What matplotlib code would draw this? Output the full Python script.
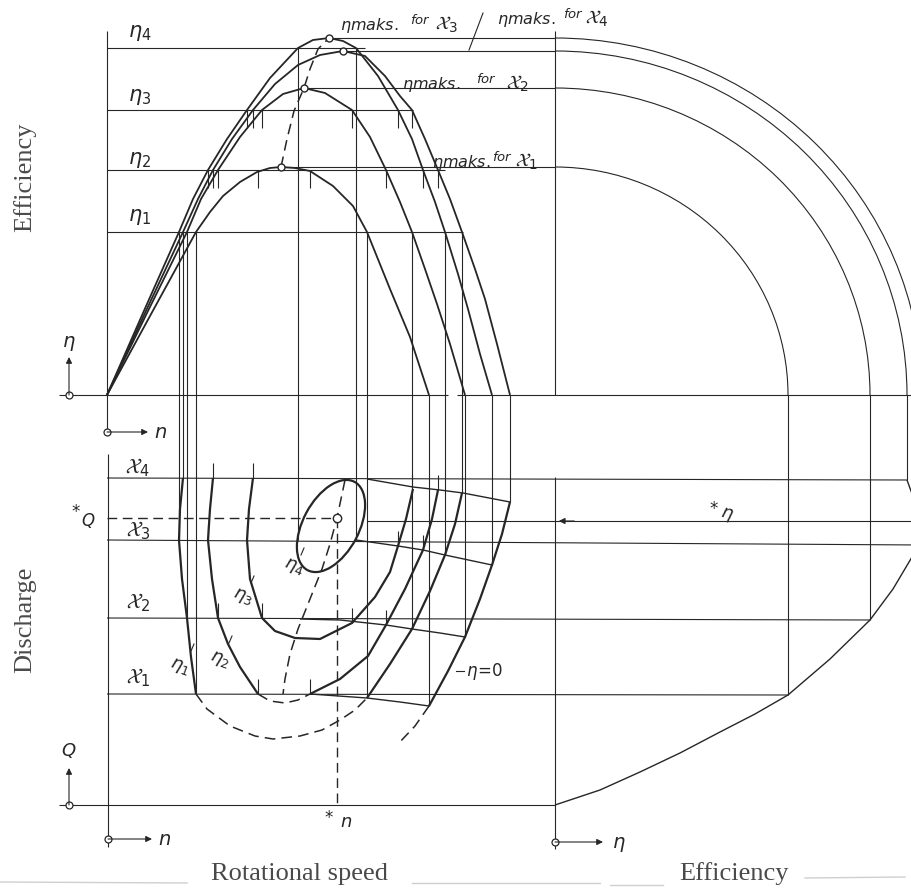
""" plot.py
Turbine hill diagram construction: eta(n), Q(n) contours and eta(Q). """

import numpy as np
import matplotlib.pyplot as plt
from matplotlib.patches import Arc, Ellipse

# ---- data, in diagram units (n and eta / Q counted from each panel origin) ----
eta_levels = [163, 225, 285, 347]            # eta_1 .. eta_4
q_left = [111, 187, 265, 327]                # openings x_1 .. x_4 on the Q axis
q_right = [110, 185, 260, 325]               # same openings on the eta axis side

# eta(n) for the four openings (upper diagram)
n_x1 = [0, 43, 89, 103, 116, 133, 150, 163, 174, 188, 203, 226, 246, 260, 283, 303, 322]
eta_x1 = [0, 79, 163, 183, 199, 213, 223, 227, 228, 227, 224, 209, 189, 163, 106, 58, 0]
n_x2 = [0, 40, 80, 94, 111, 133, 155, 176, 197, 218, 245, 263, 279, 293, 305, 318, 330, 343, 358]
eta_x2 = [0, 82, 163, 196, 225, 258, 285, 301, 307, 302, 285, 258, 225, 193, 163, 126, 91, 51, 0]
n_x3 = [0, 36, 72, 86, 101, 120, 140, 163, 191, 206, 222, 236, 249, 271, 291, 305, 316,
        328, 338, 351, 361, 373, 385]
eta_x3 = [0, 82, 163, 196, 225, 256, 285, 317, 347, 355, 357, 354, 347, 319, 285, 256, 225,
          193, 163, 121, 86, 41, 0]
n_x4 = [0, 38, 76, 91, 106, 125, 146, 168, 191, 213, 236, 258, 278, 293, 305, 318, 331,
        343, 355, 368, 378, 390, 403]
eta_x4 = [0, 82, 163, 196, 225, 256, 285, 311, 330, 340, 344, 339, 319, 299, 285, 256, 225,
          196, 163, 126, 96, 51, 0]

peak_n = [174, 197, 222, 236]
peak_eta = [228, 307, 357, 344]
peak_eta_right = [233, 315, 367, 352]        # same maxima on the lower-right eta axis
eta_line_len = [356, 338, 306, 258]

# crossings with eta_2 / eta_3 (short ticks), n and Q of the matching contour point
tick2_n = [101, 106, 111, 151, 203, 279, 316, 331]
tick2_q = [265, 327, 187, 111, 111, 180, 255, 315]
tick3_n = [140, 146, 155, 245, 291, 305]
tick3_q = [265, 327, 187, 182, 259, 316]

# crossings carried down as full projection lines
proj_n = [72, 76, 80, 89, 260, 305, 338, 355, 191, 249, 322, 358, 385, 403]
proj_eta = [163, 163, 163, 163, 163, 163, 163, 163, 347, 347, 0, 0, 0, 0]
proj_q = [265, 327, 187, 111, 107, 176, 250, 312, 265, 265, 99, 168, 240, 303]

# efficiency contours in the Q-n diagram
c1_n = [76, 73, 72, 75, 80, 84, 89]
c1_q = [327, 296, 265, 226, 187, 148, 111]
c1d_n = [89, 100, 123, 148, 166, 193, 215, 233, 248, 260]
c1d_q = [111, 96, 79, 69, 66, 69, 75, 85, 95, 107]
c1r_n = [260, 283, 305, 323, 338, 348, 355]
c1r_q = [107, 141, 176, 214, 250, 281, 312]
c2_n = [106, 103, 101, 105, 111, 121, 133, 151]
c2_q = [327, 296, 265, 226, 187, 161, 138, 111]
c2d_n = [151, 163, 178, 191, 203]
c2d_q = [111, 104, 102, 105, 111]
c2r_n = [203, 233, 261, 279, 298, 316, 325, 331]
c2r_q = [111, 126, 149, 180, 216, 255, 286, 315]
c3_n = [146, 142, 140, 143, 155, 168, 188, 213, 245, 268, 283, 291, 299, 306]
c3_q = [327, 296, 265, 226, 187, 174, 167, 166, 182, 208, 233, 259, 286, 316]
c0_n = [403, 395, 385, 373, 358, 341, 322]
c0_q = [303, 271, 240, 206, 168, 134, 99]
c0d_n = [322, 308, 291]
c0d_q = [99, 79, 61]
ell_c = (224, 279)
ell_w, ell_h, ell_tilt = 100, 56, 62

# constant-opening lines where Q falls off with n
iso1_n = [203, 260, 293, 322]
iso1_q = [111, 107, 103, 99]
iso2_n = [193, 233, 279, 305, 333, 358]
iso2_q = [186, 185, 180, 176, 172, 168]
iso3_n = [249, 291, 316, 338, 385]
iso3_q = [265, 259, 255, 250, 240]
iso4_n = [260, 306, 333, 356, 403]
iso4_q = [326, 318, 315, 312, 303]

# loci of best efficiency
top_loc_n = [174, 180, 187, 197, 203, 211, 222]
top_loc_eta = [228, 256, 284, 307, 326, 346, 357]
low_loc_n = [238, 230, 223, 215, 203, 191, 183, 178, 176]
low_loc_q = [325, 287, 261, 236, 206, 176, 151, 126, 111]
opt_n, opt_q = 230, 287
opt_eta_q = 284            # level of the *eta reading line

# eta_max as a function of Q (lower-right diagram)
em_q = [0, 15, 33, 52, 73, 91, 110, 146, 185, 216, 248, 260, 292, 325]
em_eta = [0, 45, 85, 125, 165, 200, 233, 275, 315, 338, 357, 367, 364, 352]

# ---- layout ----
N0, E0 = 107, 555      # x of n origin / of lower-right eta origin
H0, Q0 = 396, 806      # y of upper eta origin / of Q origin
INK = '#262626'
DASH = (0, (7, 4))

plt.rcParams['mathtext.fontset'] = 'dejavusans'


def up(n, e):
    return N0 + np.asarray(n, float), H0 - np.asarray(e, float)


def lo(n, q):
    return N0 + np.asarray(n, float), Q0 - np.asarray(q, float)


def rt(e, q):
    return E0 + np.asarray(e, float), Q0 - np.asarray(q, float)


fig = plt.figure(figsize=(9.12, 8.95), dpi=100)
ax = fig.add_axes([0, 0, 1, 1])
ax.set_xlim(0, 912)
ax.set_ylim(895, 0)
ax.axis('off')


def line(xy, lw=0.8, **kw):
    ax.plot(xy[0], xy[1], color=INK, lw=lw, solid_capstyle='butt', **kw)


# frame / axes
line(([N0, N0], [32, 433]))
line(([N0 + 1, N0 + 1], [455, 848]))
line(([E0, E0], [32, H0]))
line(([E0, E0], [478, 850]))
line(([59, 448], [H0, H0]))
line(([457, 912], [H0, H0]))
line(([59, E0], [Q0, Q0]))

# eta levels and eta_max lines with the transfer arcs
for e, L in zip(eta_levels, eta_line_len):
    line(up([0, L], [e, e]))
for pn, pe, pr, ql in zip(peak_n, peak_eta, peak_eta_right, q_right):
    line(up([pn, E0 - N0], [pe, pe]))
    ax.add_patch(Arc((E0, H0), 2 * pr, 2 * pe, theta1=270, theta2=360, color=INK, lw=0.8))
    line(rt([pr, pr], [Q0 - H0, ql]))

# opening lines across both lower diagrams
for ql, qr, pr in zip(q_left, q_right, peak_eta_right):
    line(([N0, E0 + pr], [Q0 - ql, Q0 - qr]))

# eta(n) curves
for n, e in [(n_x1, eta_x1), (n_x2, eta_x2), (n_x3, eta_x3), (n_x4, eta_x4)]:
    line(up(n, e), lw=1.3)

# ticks and projections
for n, q in zip(tick2_n, tick2_q):
    line(up([n, n], [eta_levels[1], eta_levels[1] - 18]))
    line(lo([n, n], [q + 15, q]))
for n, q in zip(tick3_n, tick3_q):
    line(up([n, n], [eta_levels[2], eta_levels[2] - 18]))
    line(lo([n, n], [q + 15, q]))
for n, e, q in zip(proj_n, proj_eta, proj_q):
    line(([N0 + n, N0 + n], [H0 - e, Q0 - q]))

# contours
for n, q in [(c1_n, c1_q), (c1r_n, c1r_q), (c2_n, c2_q), (c2r_n, c2r_q),
             (c3_n, c3_q), (c0_n, c0_q)]:
    line(lo(n, q), lw=1.6)
for n, q in [(c1d_n, c1d_q), (c2d_n, c2d_q), (c0d_n, c0d_q)]:
    line(lo(n, q), lw=1.1, ls=DASH)
ex, ey = lo(*ell_c)
ax.add_patch(Ellipse((ex, ey), ell_w, ell_h, angle=-ell_tilt, fill=False,
                     ec=INK, lw=1.6))
for n, q in [(iso1_n, iso1_q), (iso2_n, iso2_q), (iso3_n, iso3_q), (iso4_n, iso4_q)]:
    line(lo(n, q), lw=1.0)

# best-efficiency loci and optimum
line(up(top_loc_n, top_loc_eta), lw=1.1, ls=DASH)
line(lo(low_loc_n, low_loc_q), lw=1.1, ls=DASH)
line(lo([0, opt_n], [opt_q, opt_q]), lw=1.0, ls=DASH)
line(lo([opt_n, opt_n], [opt_q, 0]), lw=1.0, ls=DASH)
px, py = up(peak_n, peak_eta)
ax.plot(px, py, 'o', ms=5, mfc='white', mec=INK, mew=1.0)
ox, oy = lo(opt_n, opt_q)
ax.plot(ox, oy, 'o', ms=6, mfc='white', mec=INK, mew=1.0)

# eta_max(Q) curve and *eta
line(rt(em_eta, em_q), lw=1.0)
sx, sy = lo([260, 805], [opt_eta_q, opt_eta_q])
line((sx, sy))
ax.annotate('', xy=(E0 + 1, sy[0]), xytext=(E0 + 22, sy[0]),
            arrowprops=dict(arrowstyle='-|>', color=INK, lw=0.8, mutation_scale=9))

# axis direction markers
for (x0, y0), (x1, y1) in [((69, H0), (69, 358)), ((N0, 433), (148, 433)),
                           ((69, Q0), (69, 769)), ((N0 + 1, 840), (152, 840)),
                           ((E0, 843), (603, 843))]:
    ax.annotate('', xy=(x1, y1), xytext=(x0, y0),
                arrowprops=dict(arrowstyle='-|>', color=INK, lw=0.8, mutation_scale=9,
                                shrinkA=0, shrinkB=0))
    ax.plot(x0, y0, 'o', ms=5, mfc='white', mec=INK, mew=0.9)

# ---- text ----
mk = dict(color=INK, ha='center', va='center')
ax.text(69, 343, r'$\eta$', fontsize=14, **mk)
ax.text(161, 432, r'$n$', fontsize=14, **mk)
ax.text(69, 750, r'$Q$', fontsize=13, **mk)
ax.text(165, 840, r'$n$', fontsize=14, **mk)
ax.text(619, 845, r'$\eta$', fontsize=14, **mk)

for i, y in enumerate([217, 160, 97, 33]):
    ax.text(140, y, r'$\eta_%d$' % (i + 1), fontsize=15, **mk)
for i, y in enumerate([678, 603, 531, 468]):
    ax.text(138, y, r'$\mathcal{X}_%d$' % (i + 1), fontsize=15, **mk)

for i, (x, y) in enumerate([(180, 667), (220, 660), (243, 597), (294, 567)]):
    ax.text(x, y, r'$\eta_%d$' % (i + 1), fontsize=13, rotation=-20, **mk)
for xs, ys in [([191, 194], [652, 645]), ([229, 232], [644, 637]),
               ([251, 254], [584, 577]), ([301, 304], [556, 549])]:
    ax.plot(xs, ys, color=INK, lw=0.8)
ax.plot([456, 464], [672, 672], color=INK, lw=0.8)
ax.text(466, 672, r'$\eta\!=\!0$', fontsize=12, color=INK, ha='left', va='center')

# eta_max labels: (x of eta, baseline, x of "for", x of X)
for k, (xe, yb, xf, xx) in enumerate([(432, 167, 492, 515), (402, 89, 476, 506),
                                      (340, 30, 410, 435), (497, 24, 563, 585)]):
    ax.text(xe, yb, r'$\eta\mathit{maks.}$', fontsize=11.5, color=INK, va='baseline')
    ax.text(xf, yb - 6, r'$\mathit{for}$', fontsize=9.5, color=INK, va='baseline')
    ax.text(xx, yb, r'$\mathcal{X}_%d$' % (k + 1), fontsize=14, color=INK, va='baseline')
ax.plot([483, 469], [14, 51], color=INK, lw=0.8)

ax.text(76, 512, '*', fontsize=12, **mk)
ax.text(88, 521, r'$Q$', fontsize=12, **mk)
ax.text(329, 818, '*', fontsize=12, **mk)
ax.text(346, 822, r'$n$', fontsize=13, **mk)
ax.text(714, 509, '*', fontsize=12, **mk)
ax.text(727, 515, r'$\eta$', fontsize=13, rotation=-15, **mk)

# captions
cap = dict(family='Liberation Serif', fontsize=19, color='#4a4a4a', ha='center', va='center')
ax.text(25, 177, 'Efficiency', rotation=90, **cap)
ax.text(25, 620, 'Discharge', rotation=90, **cap)
ax.text(300, 874, 'Rotational speed', **cap)
ax.text(734, 874, 'Efficiency', **cap)
for xs, ys in [([0, 187], [883, 884]), ([412, 600], [884, 884]),
               ([610, 663], [886, 886]), ([805, 905], [879, 878])]:
    ax.plot(xs, ys, color='#cfcfcf', lw=1.0)

fig.savefig('out.png', dpi=100)
